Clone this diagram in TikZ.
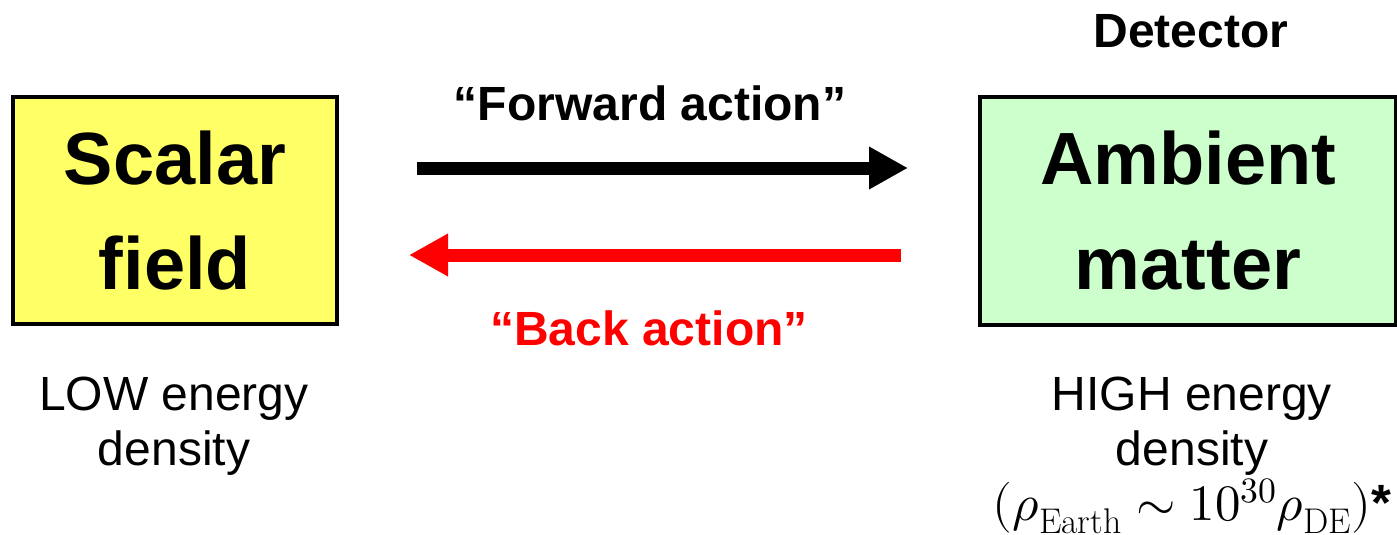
\documentclass[tikz,border=0pt]{standalone}
\usepackage{fontspec}
\usepackage{unicode-math}
\newfontfamily\arial{Liberation Sans}
\usetikzlibrary{arrows.meta}
\definecolor{sfyellow}{RGB}{255,255,102}
\definecolor{amgreen}{RGB}{204,255,204}
\definecolor{backred}{RGB}{255,0,0}
\begin{document}
\begin{tikzpicture}[x=1pt,y=-1pt,
  box/.style={draw=black, line width=4.5pt, inner sep=0pt, align=center,
    font=\arial\bfseries\fontsize{74}{105}\selectfont},
  lab/.style={font=\arial\fontsize{48}{55}\selectfont, align=center, inner sep=0pt, anchor=north},
  actlab/.style={font=\arial\bfseries\fontsize{48}{55}\selectfont, inner sep=0pt, anchor=base},
  fwd/.style={line width=13pt, draw=black, -{Triangle[length=39pt,width=40pt]}},
  bck/.style={line width=13pt, draw=backred, -{Triangle[length=39pt,width=40pt]}}]
\useasboundingbox (0,0) rectangle (1397,535);
\node[box, fill=sfyellow, minimum width=324pt, minimum height=227pt] (sf) at (175,210.5) {Scalar\\field};
\node[box, fill=amgreen, minimum width=416pt, minimum height=228pt] (am) at (1188,211) {Ambient\\matter};
\node[actlab] (det) at (1191,48) {Detector};
\node[actlab] (fwdlab) at (650,120) {“Forward action”};
\node[actlab, text=backred] (bcklab) at (649,345) {“Back action”};
\coordinate (f1) at (417,168);
\coordinate (f2) at (908,168);
\coordinate (b1) at (901,255);
\coordinate (b2) at (409,255);
\draw[fwd] (f1) -- (f2);
\draw[bck] (b1) -- (b2);
\node[lab] (low) at (174,377) {LOW energy\\density};
\node[lab] (high) at (1192,377) {HIGH energy\\density\\{\fontsize{51}{55}\selectfont$(\rho_{\mathrm{Earth}}\sim 10^{30}\rho_{\mathrm{DE}})${\bfseries *}}};
\end{tikzpicture}
\end{document}
